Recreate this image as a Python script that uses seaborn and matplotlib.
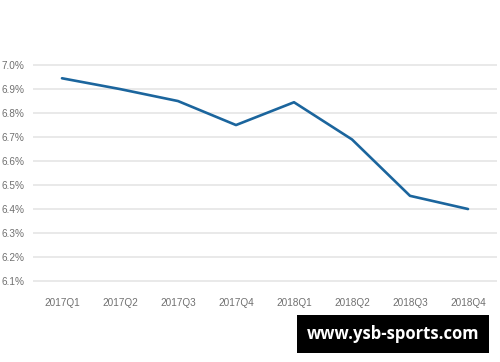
import pandas as pd
import matplotlib.pyplot as plt
import seaborn as sns
from matplotlib.ticker import FuncFormatter

quarters = ['2017Q1', '2017Q2', '2017Q3', '2017Q4',
            '2018Q1', '2018Q2', '2018Q3', '2018Q4']
rate = [6.945, 6.90, 6.85, 6.75, 6.845, 6.69, 6.455, 6.40]
y_ticks = [6.1, 6.2, 6.3, 6.4, 6.5, 6.6, 6.7, 6.8, 6.9, 7.0]

df = pd.DataFrame({'quarter': quarters, 'rate': rate})

sns.set_style('white')
plt.rcParams['font.family'] = ['Liberation Sans', 'DejaVu Sans']

fig = plt.figure(figsize=(5, 3.62), dpi=100)
ax = fig.add_axes([33 / 500, 0.2105, 464 / 500, 0.623])

sns.lineplot(data=df, x='quarter', y='rate', sort=False, ax=ax,
             color='#1b659d', linewidth=1.9)

ax.set_xlim(-0.5, 7.5)
ax.set_ylim(6.08, 7.02)
ax.set_yticks(y_ticks)
ax.yaxis.set_major_formatter(FuncFormatter(lambda v, p: f'{v:.1f}%'))
ax.grid(axis='y', color='#e3e3e3', linewidth=1.1)
ax.grid(axis='x', visible=False)
for s in ax.spines.values():
    s.set_visible(False)
ax.tick_params(axis='both', length=0, labelsize=7.2, labelcolor='#707070')
ax.tick_params(axis='y', pad=6)
ax.tick_params(axis='x', pad=9)
ax.set_xlabel('')
ax.set_ylabel('')

# watermark box in the lower right
fig.text(393 / 500, 1 - 334 / 362, 'www.ysb-sports.com', color='white',
         fontsize=12, fontweight='bold', ha='center', va='center',
         family=['Open Sans', 'DejaVu Sans'],
         bbox=dict(facecolor='black', edgecolor='none', boxstyle='square,pad=0.6'))

fig.savefig('out.png', dpi=100)
plt.close()
